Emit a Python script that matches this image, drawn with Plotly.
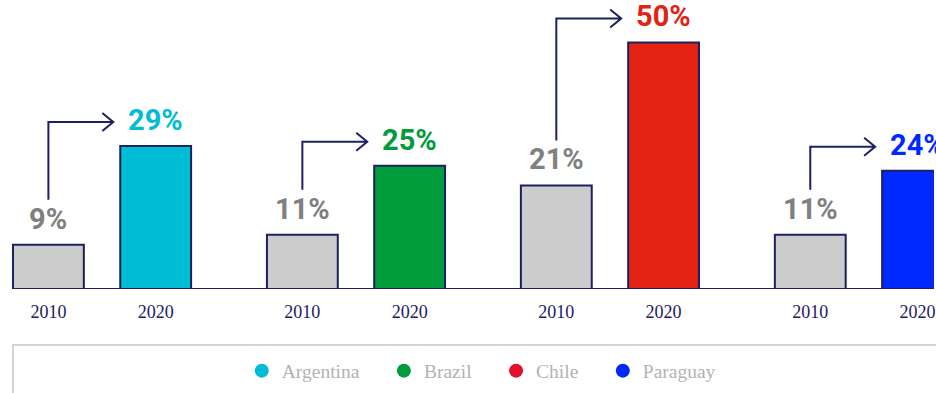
import plotly.graph_objects as go

countries = ["Argentina", "Brazil", "Chile", "Paraguay"]
years = ["2010", "2020"]
values_2010 = [9, 11, 21, 11]
values_2020 = [29, 25, 50, 24]
country_colors = ["#00bcd4", "#009b3a", "#e32213", "#0029ff"]
legend_colors = ["#00bcd4", "#009b3a", "#e3102e", "#0029ff"]
gray = "#cccccc"
navy = "#1c2062"

W, H = 936, 393
base_px = 289
px_per_unit_y = 4.93
off = 0.2112
bar_w = 0.279
xmin, xmax = -0.4018, 3.2760
sx = W / (xmax - xmin)
sy = px_per_unit_y
ymax = base_px / sy

x10 = [g - off for g in range(len(countries))]
x20 = [g + off for g in range(len(countries))]

fig = go.Figure()
fig.add_trace(go.Bar(x=x10, y=values_2010, width=bar_w, marker=dict(color=gray, line=dict(color=navy, width=2)),
                     showlegend=False, hoverinfo="skip"))
fig.add_trace(go.Bar(x=x20, y=values_2020, width=bar_w, marker=dict(color=country_colors, line=dict(color=navy, width=2)),
                     showlegend=False, hoverinfo="skip"))
pad = "\u00a0" * 4
for c, col in zip(countries, legend_colors):
    fig.add_trace(go.Scatter(x=[None], y=[None], mode="markers", name=c + pad,
                             marker=dict(color=col, size=14, symbol="circle")))

label_font = "Roboto, Liberation Sans, sans-serif"
annotations = []
shapes = []
for g in range(len(countries)):
    a, b = values_2010[g], values_2020[g]
    annotations.append(dict(x=x10[g], y=a, text=f"<b>{a}%</b>", showarrow=False, yanchor="bottom", yshift=7,
                            font=dict(family=label_font, size=29, color="#808080")))
    annotations.append(dict(x=x20[g], y=b, text=f"<b>{b}%</b>", showarrow=False, yanchor="bottom", yshift=7,
                            font=dict(family=label_font, size=29, color=country_colors[g])))
    xv = x10[g]
    yb = a + 45 / sy
    yh = b + 24 / sy
    xe = x20[g] - (35.5 + 7) / sx
    path = (f"M {xv},{yb} L {xv},{yh} L {xe},{yh} "
            f"M {xe - 11 / sx},{yh + 9 / sy} L {xe},{yh} L {xe - 11 / sx},{yh - 9 / sy}")
    shapes.append(dict(type="path", path=path, xref="x", yref="y", line=dict(color=navy, width=2)))

# baseline
shapes.append(dict(type="line", xref="x", yref="y", x0=x10[0] - bar_w / 2, x1=xmax, y0=0, y1=0,
                   line=dict(color=navy, width=2)))
# legend frame
shapes.append(dict(type="rect", xref="paper", yref="paper", x0=13 / W, x1=1.02,
                   y0=(base_px - 345) / base_px, y1=-0.6, line=dict(color="#d3d3d3", width=2),
                   fillcolor="rgba(0,0,0,0)", layer="below"))

fig.update_layout(
    width=W, height=H,
    margin=dict(l=0, r=0, t=0, b=H - base_px),
    paper_bgcolor="white", plot_bgcolor="white",
    barmode="overlay",
    xaxis=dict(range=[xmin, xmax], tickvals=x10 + x20, ticktext=[years[0]] * 4 + [years[1]] * 4,
               showgrid=False, zeroline=False, showline=False, ticks="", ticklabelstandoff=10,
               ticklabeloverflow="allow",
               tickfont=dict(family="Liberation Serif, DejaVu Serif, serif", size=18, color=navy),
               fixedrange=True),
    yaxis=dict(range=[0, ymax], visible=False, fixedrange=True),
    showlegend=True,
    legend=dict(orientation="h", x=0.526, xanchor="center", y=(base_px - 371) / base_px, yanchor="middle",
                font=dict(family="Liberation Serif, DejaVu Serif, serif", size=19.5, color="#b3b3b3"),
                bgcolor="rgba(0,0,0,0)", itemwidth=30),
    annotations=annotations,
    shapes=shapes,
)

fig.write_html("out.html")
